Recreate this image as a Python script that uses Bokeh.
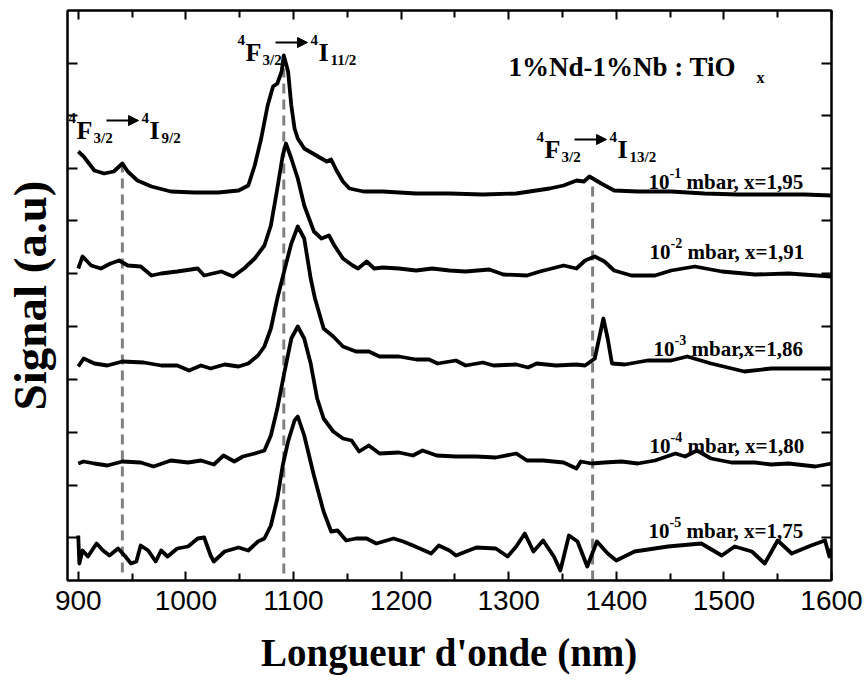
from bokeh.plotting import figure
from bokeh.models import (Label, Arrow, NormalHead, LinearAxis, FixedTicker, Range1d,
                          CustomJSTickFormatter)
from bokeh.embed import file_html
from bokeh.resources import INLINE

# ---------------- data ----------------
wl_1 = [900, 905, 915, 924, 933, 941, 946, 955, 968, 986, 1008, 1030, 1049, 1058, 1064, 1070, 1076,
        1081, 1085, 1089, 1091, 1095, 1098, 1101, 1104, 1110, 1118, 1126, 1131, 1135, 1140, 1146,
        1152, 1165, 1183, 1214, 1245, 1276, 1307, 1338, 1351, 1363, 1370, 1375, 1386, 1398, 1420,
        1451, 1482, 1513, 1544, 1575, 1600]
sig_1 = [42.9, 42.4, 41.0, 40.7, 40.9, 41.7, 40.9, 40.0, 39.4, 38.9, 38.8, 38.8, 39.0, 39.5, 41.5, 44.2,
         47.5, 49.4, 49.7, 50.9, 52.5, 50.9, 47.5, 45.2, 44.2, 43.2, 42.7, 42.2, 41.9, 42.1, 41.0, 39.9,
         39.2, 38.9, 38.9, 38.7, 38.7, 38.6, 38.7, 39.2, 39.5, 40.0, 39.9, 40.4, 39.7, 39.0, 38.9,
         38.9, 38.7, 38.6, 38.6, 38.6, 38.5]

wl_2 = [900, 904, 912, 921, 930, 938, 946, 958, 968, 977, 992, 1011, 1017, 1033, 1044, 1054, 1064,
        1073, 1079, 1085, 1090, 1093, 1098, 1104, 1110, 1119, 1126, 1133, 1138, 1146, 1155, 1160,
        1168, 1175, 1183, 1198, 1214, 1229, 1245, 1260, 1282, 1295, 1317, 1329, 1351, 1363, 1371,
        1380, 1389, 1398, 1414, 1436, 1451, 1473, 1498, 1529, 1560, 1600]
sig_2 = [31.2, 32.4, 31.5, 31.2, 31.7, 32.0, 31.5, 31.4, 30.5, 30.7, 30.9, 31.2, 30.5, 30.9, 30.4, 31.2,
         32.2, 33.5, 35.5, 39.2, 42.5, 43.7, 42.2, 40.2, 37.5, 34.9, 34.2, 34.5, 33.5, 32.2, 31.5, 31.2,
         31.9, 31.2, 31.3, 31.2, 31.0, 31.2, 31.0, 30.9, 31.1, 30.6, 30.5, 30.9, 31.5, 31.2, 32.0,
         32.4, 31.9, 31.0, 30.5, 30.5, 31.0, 31.4, 30.9, 30.6, 30.7, 30.4]

wl_3 = [900, 905, 915, 927, 941, 961, 977, 992, 1003, 1014, 1023, 1036, 1049, 1058, 1067, 1073, 1079,
        1085, 1092, 1098, 1104, 1110, 1116, 1120, 1128, 1137, 1146, 1158, 1170, 1180, 1198, 1214,
        1226, 1234, 1251, 1260, 1276, 1286, 1307, 1318, 1326, 1344, 1363, 1371, 1380, 1384, 1388,
        1392, 1396, 1408, 1429, 1451, 1466, 1488, 1519, 1544, 1569, 1600]
sig_3 = [21.4, 22.2, 21.7, 21.5, 21.9, 21.8, 21.5, 21.5, 21.0, 21.5, 21.2, 21.6, 21.4, 21.7, 22.5, 23.4,
         25.2, 28.2, 31.2, 33.7, 35.4, 34.2, 30.2, 28.2, 25.2, 24.4, 23.4, 22.9, 22.9, 22.4, 22.4,
         22.1, 22.1, 21.7, 22.0, 21.5, 21.8, 21.5, 21.6, 21.3, 21.7, 21.5, 21.6, 21.5, 22.2, 24.2,
         26.2, 24.2, 21.7, 21.6, 22.0, 22.0, 22.4, 21.7, 20.9, 21.2, 21.2, 21.2]

wl_4 = [900, 905, 915, 927, 941, 958, 970, 986, 1002, 1014, 1026, 1035, 1045, 1053, 1064, 1073, 1079,
        1085, 1091, 1098, 1104, 1110, 1116, 1122, 1128, 1137, 1146, 1154, 1161, 1170, 1180, 1198,
        1211, 1220, 1233, 1251, 1270, 1288, 1307, 1317, 1332, 1351, 1363, 1367, 1377, 1389, 1405,
        1420, 1436, 1455, 1464, 1475, 1488, 1507, 1529, 1544, 1560, 1585, 1600]
sig_4 = [11.7, 11.9, 11.7, 11.5, 11.9, 11.8, 11.4, 12.0, 11.8, 12.0, 11.6, 12.5, 11.9, 12.4, 12.7, 13.0,
         14.5, 17.2, 20.5, 24.2, 25.4, 24.2, 21.7, 18.2, 16.2, 14.9, 14.2, 14.0, 12.9, 13.5, 12.7,
         12.8, 12.5, 13.0, 12.5, 12.4, 12.4, 12.3, 12.7, 12.0, 12.0, 11.8, 11.2, 11.9, 11.7, 11.8,
         11.9, 11.7, 12.0, 12.7, 12.4, 13.0, 12.2, 11.8, 11.8, 11.6, 11.7, 11.4, 11.7]

wl_5 = [900, 901, 904, 909, 917, 923, 929, 937, 943, 949, 954, 958, 965, 972, 977, 983, 992, 1002,
        1011, 1017, 1023, 1026, 1036, 1049, 1058, 1067, 1073, 1079, 1085, 1090, 1095, 1101, 1104,
        1110, 1119, 1128, 1135, 1141, 1149, 1158, 1168, 1177, 1193, 1202, 1211, 1228, 1235, 1245,
        1251, 1270, 1288, 1299, 1307, 1315, 1323, 1332, 1342, 1348, 1356, 1364, 1373, 1382, 1392,
        1400, 1417, 1448, 1479, 1498, 1510, 1526, 1538, 1550, 1563, 1581, 1594, 1598, 1600]
sig_5 = [4.5, 1.7, 3.0, 2.4, 3.7, 3.0, 2.5, 3.2, 2.5, 1.7, 1.9, 3.5, 3.0, 1.9, 3.0, 2.4, 3.2, 3.4,
         4.2, 4.3, 2.5, 1.9, 2.9, 3.3, 3.0, 3.9, 4.2, 5.5, 8.2, 11.5, 13.9, 16.0, 16.4,
         14.5, 10.5, 6.9, 4.9, 5.0, 4.0, 4.2, 4.2, 3.7, 4.2, 3.9, 3.5, 2.7, 3.5, 3.0,
         2.5, 3.3, 3.2, 2.4, 3.4, 4.7, 2.9, 4.0, 2.4, 1.0, 4.5, 3.9, 1.4, 3.9, 2.7,
         2.0, 2.9, 3.4, 3.7, 2.5, 3.4, 2.9, 1.7, 4.0, 2.7, 3.5, 4.0, 2.4, 3.2]

# transition markers (nm) and their top ends (a.u.)
trans_wl = [941, 1091, 1378]
trans_top = [41.5, 51.2, 39.7]
trans_bottom = [0.8, 0.7, 0.0]

# curve labels
press_exp = ["-1", "-2", "-3", "-4", "-5"]
press_rest = ["mbar, x=1,95", "mbar, x=1,91", "mbar,x=1,86", "mbar, x=1,80", "mbar, x=1,75"]

x_major = [900, 1000, 1100, 1200, 1300, 1400, 1500, 1600]
x_minor = [950, 1050, 1150, 1250, 1350, 1450, 1550]
y_ticks = [4.3, 9.5, 14.8, 20.1, 25.4, 30.7, 36.0, 41.2, 46.5, 51.7]

# ---------------- figure ----------------
FW, FH = 764, 570
XR = (890, 1600)
YR = (0, 57)

p = figure(output_backend="svg", toolbar_location=None,
           frame_width=FW, frame_height=FH,
           x_range=Range1d(*XR), y_range=Range1d(*YR),
           min_border_left=58, min_border_top=10, min_border_right=34, min_border_bottom=0,
           background_fill_color="white", border_fill_color="white")
p.xgrid.visible = False
p.ygrid.visible = False
p.outline_line_color = "black"
p.outline_line_width = 2

xt = FixedTicker(ticks=x_major, minor_ticks=x_minor)
yt = FixedTicker(ticks=y_ticks, minor_ticks=[])
blank = CustomJSTickFormatter(code="return ''")

def style_x(ax, labels=True):
    ax.ticker = xt
    ax.axis_line_width = 2
    ax.major_tick_in = 9
    ax.major_tick_out = 0
    ax.minor_tick_in = 7
    ax.minor_tick_out = 0
    ax.major_tick_line_width = 2
    ax.minor_tick_line_width = 2
    if not labels:
        ax.formatter = blank
        ax.major_label_text_font_size = "4px"
        ax.major_label_standoff = 0

def style_y(ax):
    ax.ticker = yt
    ax.axis_line_width = 2
    ax.major_tick_in = 10
    ax.major_tick_out = 0
    ax.minor_tick_in = 0
    ax.minor_tick_out = 0
    ax.major_tick_line_width = 2
    ax.formatter = blank
    ax.major_label_text_font_size = "4px"
    ax.major_label_standoff = 0

xa = p.xaxis[0]
style_x(xa)
xa.major_label_text_font = "Liberation Sans"
xa.major_label_text_font_size = "28px"
xa.major_label_text_color = "black"
xa.major_label_standoff = 10
xa.axis_label = "Longueur d'onde (nm)"
xa.axis_label_text_font = "Liberation Serif"
xa.axis_label_text_font_style = "bold"
xa.axis_label_text_font_size = "39px"
xa.axis_label_text_color = "black"
xa.axis_label_standoff = 18

ya = p.yaxis[0]
style_y(ya)
ya.axis_label = "Signal (a.u)"
ya.axis_label_text_font = "Liberation Serif"
ya.axis_label_text_font_style = "bold"
ya.axis_label_text_font_size = "47px"
ya.axis_label_text_color = "black"
ya.axis_label_standoff = 12

top = LinearAxis()
style_x(top, labels=False)
p.add_layout(top, "above")
right = LinearAxis()
style_y(right)
p.add_layout(right, "right")

# ---------------- marks ----------------
p.segment(x0=trans_wl, y0=trans_bottom, x1=trans_wl, y1=trans_top,
          line_color="#808080", line_width=3, line_dash="10 6")

for wl, sg in [(wl_1, sig_1), (wl_2, sig_2), (wl_3, sig_3), (wl_4, sig_4), (wl_5, sig_5)]:
    p.line(wl, sg, line_color="black", line_width=3.8, line_join="round")

# ---------------- annotations (placed by frame pixel position) ----------------
def ax_(px):
    return XR[0] + (px - 66) * (XR[1] - XR[0]) / FW

def ay_(py):
    return YR[0] + (582 - py) * (YR[1] - YR[0]) / FH

SERIF = "Liberation Serif"

def txt(px, py, s, size):
    p.add_layout(Label(x=ax_(px), y=ay_(py), text=s, text_font=SERIF,
                       text_font_style="bold", text_font_size=f"{size}px",
                       text_color="black", text_baseline="alphabetic", text_align="left"))

def arrow(px0, px1, py):
    p.add_layout(Arrow(x_start=ax_(px0), y_start=ay_(py), x_end=ax_(px1), y_end=ay_(py),
                       line_color="black", line_width=2,
                       end=NormalHead(size=10, fill_color="black", line_color="black")))

def transition(px, base, lower):
    # 4F3/2 -> 4I lower
    txt(px, base - 13, "4", 15)
    txt(px + 8, base, "F", 26)
    txt(px + 25, base + 7, "3/2", 15)
    arrow(px + 38, px + 70, base - 10)
    txt(px + 73, base - 13, "4", 15)
    txt(px + 81, base, "I", 26)
    txt(px + 93, base + 7, lower, 15)

transition(236, 54, "11/2")
transition(67, 132, "9/2")
transition(535, 151, "13/2")

# title
txt(507, 68, "1%Nd-1%Nb : TiO", 27)
txt(755, 79, "x", 16)

# curve labels
starts = [(647, 183), (648, 253), (652, 350), (648, 447), (647, 532)]
for (sx, sy), e, r in zip(starts, press_exp, press_rest):
    txt(sx, sy, "10", 21)
    txt(sx + 21, sy - 9, e, 14)
    txt(sx + 38, sy, r, 21)

open("out.html", "w").write(file_html(p, INLINE))
